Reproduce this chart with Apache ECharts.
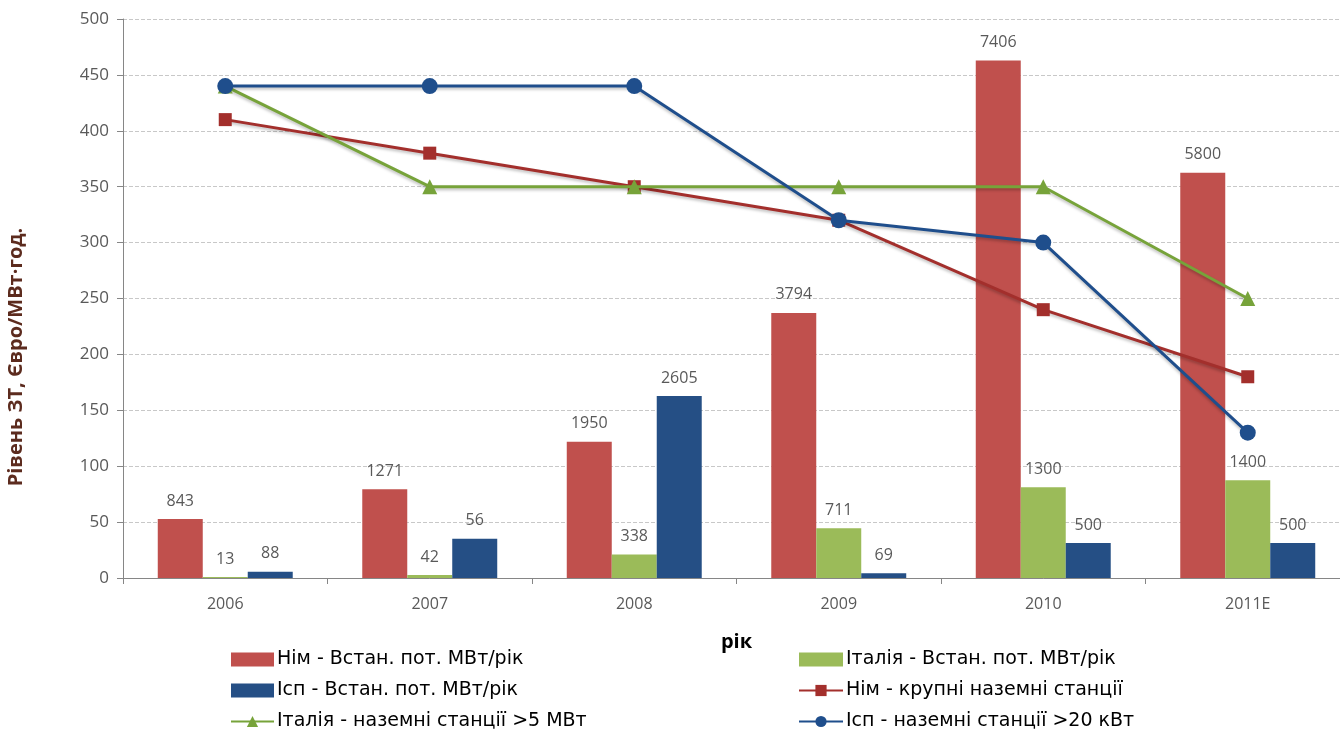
<!DOCTYPE html>
<html>
<head>
<meta charset="utf-8">
<script src="https://cdn.jsdelivr.net/npm/echarts@6/dist/echarts.min.js"></script>
<style>html,body{margin:0;padding:0;background:#fff;overflow:hidden;}#c{width:1350px;height:734px;}</style>
</head>
<body>
<div id="c"></div>
<script>
const categories = ['2006', '2007', '2008', '2009', '2010', '2011E'];
const yTicks = [0, 50, 100, 150, 200, 250, 300, 350, 400, 450, 500];
// Installed capacity, MW/year (bars, drawn on a hidden 0..8000 scale)
const germanyBars = [843, 1271, 1950, 3794, 7406, 5800];
const italyBars = [13, 42, 338, 711, 1300, 1400];
const spainBars = [88, 560, 2605, 69, 500, 500];
// labels as printed in the original chart
const germanyBarLabels = ['843', '1271', '1950', '3794', '7406', '5800'];
const italyBarLabels = ['13', '42', '338', '711', '1300', '1400'];
const spainBarLabels = ['88', '56', '2605', '69', '500', '500'];
// Tariff levels, EUR/MWh (lines)
const germanyLine = [410, 380, 350, 320, 240, 180];
const italyLine = [440, 350, 350, 350, 350, 250];
const spainLine = [440, 440, 440, 320, 300, 130];

const names = {
  gb: 'Нім - Встан. пот. МВт/рік',
  ib: 'Італія - Встан. пот. МВт/рік',
  sb: 'Ісп - Встан. пот. МВт/рік',
  gl: 'Нім - крупні наземні станції',
  il: 'Італія - наземні станції >5 МВт',
  sl: 'Ісп - наземні станції >20 кВт'
};

const FONT = 'Open Sans';
const labelStyle = (arr) => ({
  show: true, position: 'top', distance: 10, color: '#595959', fontSize: 16, fontFamily: FONT,
  formatter: (p) => arr[p.dataIndex]
});
const lineShadow = { shadowColor: 'rgba(0,0,0,0.25)', shadowBlur: 3, shadowOffsetY: 2 };

const chart = echarts.init(document.getElementById('c'));
const legendText = { fontSize: 19, color: '#000', fontFamily: 'DejaVu Sans', lineHeight: 19, padding: [0, 0, 0, -2] };
const option = {
  animation: false,
  backgroundColor: '#fff',
  grid: { left: 123, top: 19, right: 0, bottom: 156, containLabel: false },
  xAxis: {
    type: 'category', data: categories,
    axisLine: { lineStyle: { color: '#868686', width: 1 } },
    axisTick: { show: true, length: 6, lineStyle: { color: '#868686' } },
    axisLabel: { color: '#595959', fontSize: 16, fontFamily: FONT, margin: 18 },
    name: 'рік', nameLocation: 'middle', nameGap: 54,
    nameTextStyle: { color: '#000', fontSize: 20, fontWeight: 'bold', fontFamily: FONT }
  },
  yAxis: [{
    type: 'value', min: yTicks[0], max: yTicks[yTicks.length - 1], interval: 50,
    axisLine: { show: true, lineStyle: { color: '#868686' } },
    axisTick: { show: true, length: 6, lineStyle: { color: '#868686' } },
    axisLabel: { color: '#595959', fontSize: 17, fontFamily: FONT, margin: 14 },
    splitLine: { lineStyle: { color: '#c8c8c8', type: [4, 2] } }
  }, {
    type: 'value', min: 0, max: 8000, show: false, splitLine: { show: false }
  }],
  legend: [{
    left: 230, top: 650, orient: 'vertical', itemGap: 12, itemWidth: 43, itemHeight: 14, padding: 0, height: 90,
    textStyle: legendText,
    data: [{ name: names.gb, icon: 'rect' }, { name: names.sb, icon: 'rect' }, names.il]
  }, {
    left: 798, top: 650, orient: 'vertical', itemGap: 12, itemWidth: 44, itemHeight: 14, padding: 0, height: 90,
    textStyle: legendText,
    data: [{ name: names.ib, icon: 'rect' }, names.gl, names.sl]
  }],
  graphic: [{
    type: 'text', x: 16, y: 357, rotation: Math.PI / 2,
    style: { text: 'Рівень ЗТ, Євро/МВт·год.', fill: '#5C2B1E', font: 'bold 20px "Open Sans"', align: 'center', verticalAlign: 'middle' }
  }],
  series: [
    { name: names.gb, type: 'bar', yAxisIndex: 1, data: germanyBars, barGap: '0%', barCategoryGap: '34%',
      itemStyle: { color: '#C0504D' }, label: labelStyle(germanyBarLabels) },
    { name: names.ib, type: 'bar', yAxisIndex: 1, data: italyBars, barGap: '0%', barCategoryGap: '34%',
      itemStyle: { color: '#9BBB59' }, label: labelStyle(italyBarLabels) },
    { name: names.sb, type: 'bar', yAxisIndex: 1, data: spainBars, barGap: '0%', barCategoryGap: '34%',
      itemStyle: { color: '#254F85' }, label: labelStyle(spainBarLabels) },
    { name: names.gl, type: 'line', data: germanyLine, symbol: 'rect', symbolSize: 13,
      lineStyle: Object.assign({ color: '#A32F2C', width: 3 }, lineShadow), itemStyle: { color: '#A32F2C' }, z: 3 },
    { name: names.il, type: 'line', data: italyLine, symbol: 'triangle', symbolSize: 15,
      lineStyle: Object.assign({ color: '#77A33A', width: 3 }, lineShadow), itemStyle: { color: '#77A33A' }, z: 4 },
    { name: names.sl, type: 'line', data: spainLine, symbol: 'circle', symbolSize: 16,
      lineStyle: Object.assign({ color: '#1F4E8C', width: 3 }, lineShadow), itemStyle: { color: '#1F4E8C' }, z: 5 }
  ]
};
chart.setOption(option);
if (document.fonts && document.fonts.ready) {
  document.fonts.ready.then(() => { chart.setOption(option, true); });
}
</script>
</body>
</html>
